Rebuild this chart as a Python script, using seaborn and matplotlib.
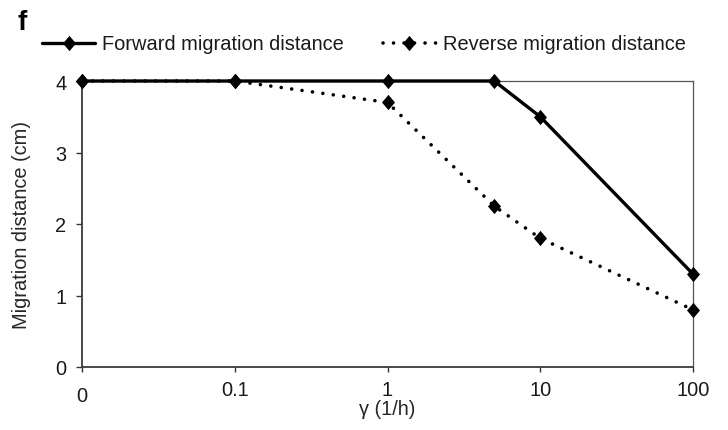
import matplotlib
matplotlib.use("Agg")
import matplotlib.pyplot as plt
import matplotlib.transforms as mtransforms
from matplotlib.ticker import NullLocator, FixedLocator
import numpy as np
import pandas as pd
import seaborn as sns

# gamma values (1/h) and migration distances (cm)
gamma = [0, 0.1, 1, 5, 10, 100]
forward_distance = [4.0, 4.0, 4.0, 4.0, 3.5, 1.3]
reverse_distance = [4.0, 4.0, 3.7, 2.25, 1.8, 0.8]

x_tick_values = [0, 0.1, 1, 10, 100]
x_tick_labels = ["0", "0.1", "1", "10", "100"]
y_tick_values = [0, 1, 2, 3, 4]

series_names = ["Forward migration distance", "Reverse migration distance"]

sns.set_style("white")
plt.rcParams["font.family"] = ["Liberation Sans", "DejaVu Sans"]
plt.rcParams["text.color"] = "#1a1a1a"

df_fwd = pd.DataFrame({"gamma": gamma, "dist": forward_distance})
df_rev = pd.DataFrame({"gamma": gamma, "dist": reverse_distance})

fig = plt.figure(figsize=(7.28, 4.31), dpi=100)
ax = fig.add_axes([82 / 728, 1 - 368 / 431, (693 - 82) / 728, (368 - 82) / 431])

# slightly tall diamond marker
diamond = [(0, 1), (0.85, 0), (0, -1), (-0.85, 0), (0, 1)]

sns.lineplot(data=df_fwd, x="gamma", y="dist", ax=ax, color="black",
             linewidth=2.4, marker=diamond, markersize=11,
             markeredgewidth=0, clip_on=False, label=series_names[0],
             zorder=5)
sns.lineplot(data=df_rev, x="gamma", y="dist", ax=ax, color="black",
             linewidth=2.6, linestyle=(0, (0.01, 2.9)),
             dash_capstyle="round", marker=diamond, markersize=11,
             markeredgewidth=0, clip_on=False, label=series_names[1],
             zorder=5)

# zero sits one decade-width below 0.1 (linear segment), then log decades
ax.set_xscale("symlog", linthresh=0.1, linscale=0.9)
ax.set_xlim(0, 100)
ax.set_ylim(0, 4)
ax.xaxis.set_major_locator(FixedLocator(x_tick_values))
ax.set_xticklabels(x_tick_labels)
ax.xaxis.set_minor_locator(NullLocator())
ax.set_yticks(y_tick_values)
ax.set_yticklabels([str(v) for v in y_tick_values])

ax.tick_params(axis="x", direction="out", length=3.6, width=1.0,
               color="#333333", labelsize=14.4, labelcolor="#1a1a1a", pad=6,
               bottom=True)
ax.tick_params(axis="y", direction="out", length=4.3, width=1.0,
               color="#333333", labelsize=14.4, labelcolor="#1a1a1a", pad=7,
               left=True)

# the "0" category label sits a little lower than the others
zero_lbl = ax.get_xticklabels()[0]
zero_lbl.set_transform(zero_lbl.get_transform() +
                       mtransforms.ScaledTranslation(0, -6 / 100, fig.dpi_scale_trans))

for side in ["left", "bottom"]:
    ax.spines[side].set_color("#3a3a3a")
    ax.spines[side].set_linewidth(1.3)
for side in ["top", "right"]:
    ax.spines[side].set_visible(True)
    ax.spines[side].set_color("#555555")
    ax.spines[side].set_linewidth(0.9)

ax.set_xlabel("γ (1/h)", fontsize=14.4)
ax.set_ylabel("Migration distance (cm)", fontsize=14.4)
ax.xaxis.set_label_coords(0.5, -0.112)
ax.yaxis.set_label_coords(-0.083, 0.5)

leg = ax.get_legend()
if leg is not None:
    leg.remove()
handles, labels = ax.get_legend_handles_labels()
fig.legend(handles, labels, loc="center left",
           bbox_to_anchor=(42 / 728, 1 - 45 / 431), ncol=2, frameon=False,
           fontsize=14.4, handlelength=2.65, handletextpad=0.35,
           columnspacing=1.95, numpoints=1, borderpad=0, borderaxespad=0)

fig.text(17 / 728, 1 - 10 / 431, "f", fontsize=20, fontweight="bold",
         va="top", ha="left", color="black")

fig.savefig("out.png", dpi=100)
